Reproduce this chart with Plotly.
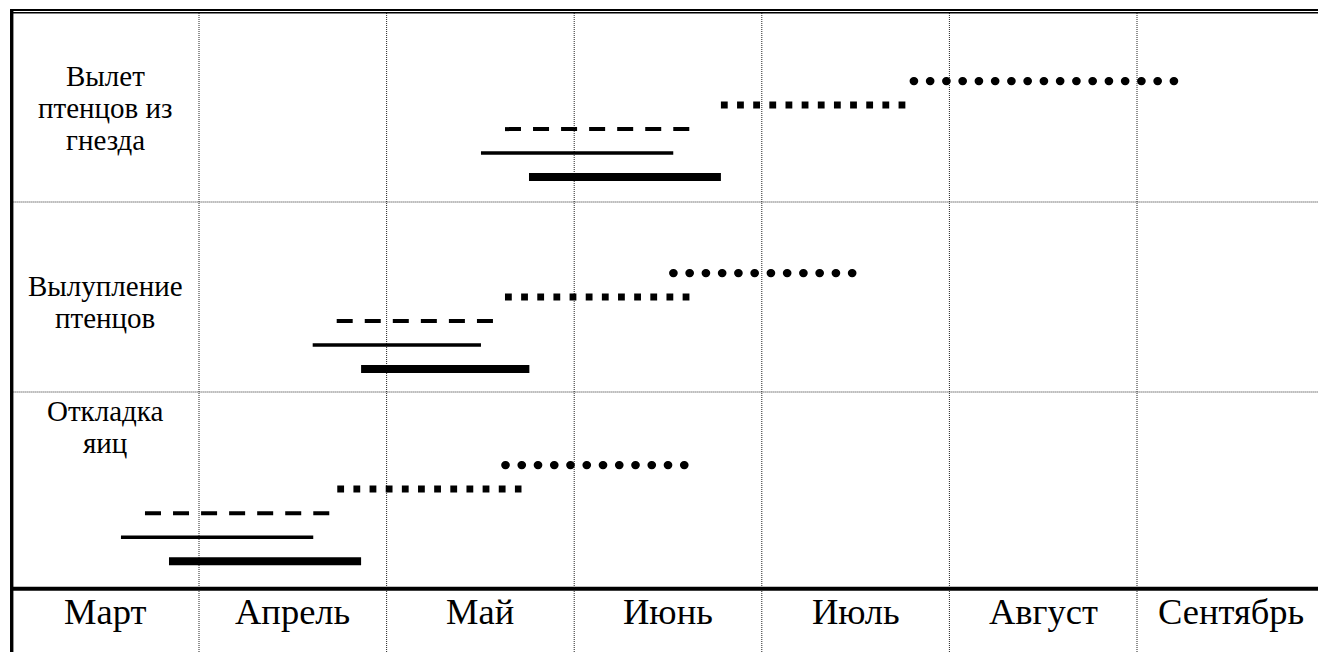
import plotly.graph_objects as go

# ---------------- data ----------------
months = ["Март", "Апрель", "Май", "Июнь", "Июль", "Август", "Сентябрь"]
# stages, bottom row first
stages = ["Откладка<br>яиц", "Вылупление<br>птенцов", "Вылет<br>птенцов из<br>гнезда"]

# start / end of each period, in months counted from 1 March (one grid column = one month)
thick_start = [0.840, 1.864, 2.759]
thick_end = [1.864, 2.761, 3.782]
thin_start = [0.584, 1.606, 2.503]
thin_end = [1.609, 2.503, 3.528]
dashed_start = [0.712, 1.734, 2.631]
dashed_end = [1.696, 2.570, 3.615]
square_start = [1.737, 2.631, 3.782]
square_end = [2.719, 3.615, 4.769]
dotted_start = [2.633, 3.528, 4.810]
dotted_end = [3.595, 4.490, 6.200]

# ---------------- styles ----------------
series = [
    # starts, ends, level inside row, width, dash, round caps
    (thick_start, thick_end, 0.140, 8, "solid", False),
    (thin_start, thin_end, 0.265, 3.5, "solid", False),
    (dashed_start, dashed_end, 0.390, 4, "16px,12.05px", False),
    (square_start, square_end, 0.515, 7, "6.8px,9.35px", False),
    (dotted_start, dotted_end, 0.640, 8.4, "0.3px,15.95px", True),
]

X0, X1 = -0.0608, 6.9648
Y0, Y1 = -0.3333, 3.0625
row_bounds = [1.0208, 2.0104]
FONT = "Liberation Serif, Times New Roman, serif"
LINE_STEP = 0.1667          # 32 px between text lines
label_y = [0.84, 1.49, 2.5]  # vertical centre of each stage label block

fig = go.Figure()

for starts, ends, level, width, dash, rnd in series:
    for r in range(len(stages)):
        fig.add_trace(go.Scatter(
            x=[starts[r], ends[r]], y=[r + level, r + level],
            mode="lines",
            line=dict(color="black", width=width, dash=dash),
            meta="round" if rnd else "plain",
            hoverinfo="skip", showlegend=False,
        ))

shapes = []
grid = dict(color="#222222", width=1, dash="1px,1px")
for m in range(1, len(months)):
    shapes.append(dict(type="line", xref="x", yref="y", x0=m, x1=m, y0=Y0, y1=2.995, line=grid, layer="below"))
for b in row_bounds:
    shapes.append(dict(type="line", xref="x", yref="y", x0=0, x1=X1, y0=b, y1=b, line=grid, layer="below"))
# frame
shapes.append(dict(type="line", xref="x", yref="y", x0=0, x1=X1, y0=3.0104, y1=3.0104, line=dict(color="black", width=2)))
shapes.append(dict(type="line", xref="x", yref="y", x0=0, x1=X1, y0=2.9964, y1=2.9964, line=dict(color="black", width=1.5)))
shapes.append(dict(type="line", xref="x", yref="y", x0=0.0016, x1=0.0016, y0=Y0, y1=3.0156, line=dict(color="black", width=3.4)))
shapes.append(dict(type="line", xref="x", yref="y", x0=0, x1=X1, y0=-0.0036, y1=-0.0036, line=dict(color="black", width=4)))

annotations = []
for i, m in enumerate(months):
    annotations.append(dict(x=i + 0.5, y=-0.12, xref="x", yref="y", text=m, showarrow=False,
                            font=dict(family=FONT, size=36.5, color="black"), xanchor="center", yanchor="middle"))
for r, s in enumerate(stages):
    lines = s.split("<br>")
    n = len(lines)
    for k, ln in enumerate(lines):
        yy = label_y[r] + ((n - 1) / 2 - k) * LINE_STEP
        annotations.append(dict(x=0.5, y=yy, xref="x", yref="y", text=ln, showarrow=False,
                                font=dict(family=FONT, size=29, color="black"),
                                xanchor="center", yanchor="middle"))

fig.update_layout(
    width=1318, height=652,
    margin=dict(l=0, r=0, t=0, b=0),
    paper_bgcolor="white", plot_bgcolor="white",
    xaxis=dict(range=[X0, X1], visible=False, showgrid=False, zeroline=False),
    yaxis=dict(range=[Y0, Y1], visible=False, showgrid=False, zeroline=False),
    shapes=shapes, annotations=annotations,
)

post = """
document.body.style.margin='0';
var gd=document.getElementById('{plot_id}');
gd.querySelectorAll('.scatterlayer .trace').forEach(function(g){
  var d=g.__data__; var t=d&&d[0]&&d[0].trace;
  if(t&&t.meta==='round'){g.querySelectorAll('path.js-line').forEach(function(p){p.style.strokeLinecap='round';});}
});
"""

fig.write_html("out.html", config={"displayModeBar": False}, post_script=post)
